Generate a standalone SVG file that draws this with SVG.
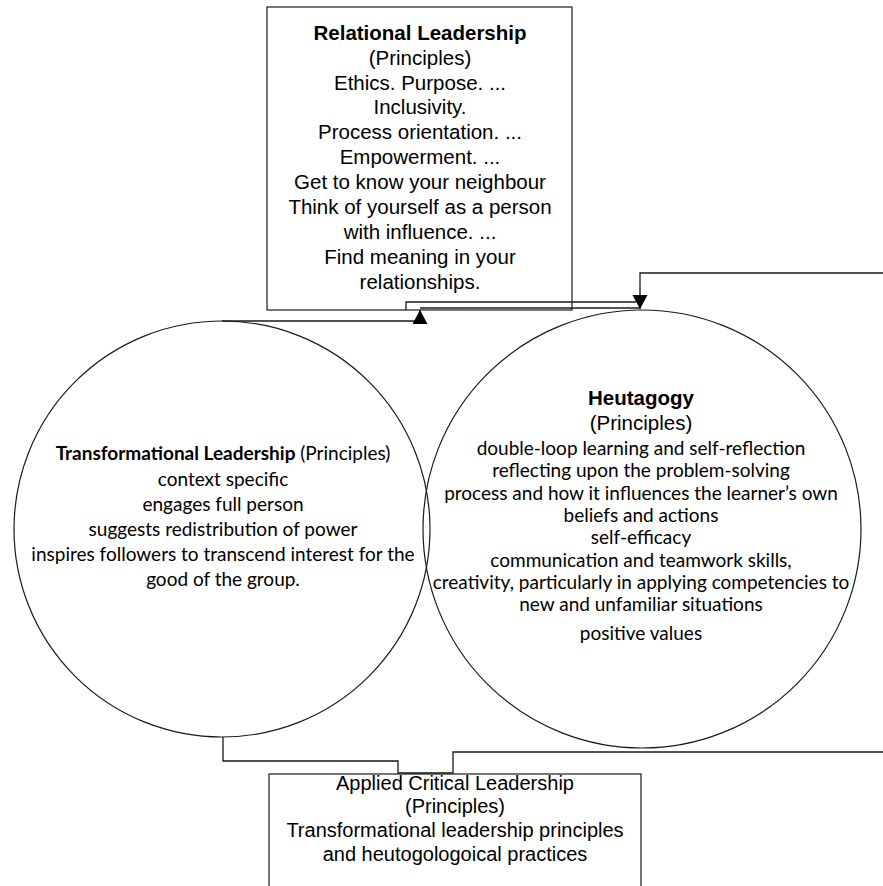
<svg xmlns="http://www.w3.org/2000/svg" width="883" height="886" viewBox="0 0 883 886">
  <style>
    .shape { fill: #ffffff; stroke: #1a1a1a; stroke-width: 1.2; }
    .wire { fill: none; stroke: #1a1a1a; stroke-width: 1.3; }
    .arial { font-family: "Liberation Sans", Arial, sans-serif; font-size: 20.5px; fill: #000; text-anchor: middle; }
    .arialsm { font-family: "Liberation Sans", Arial, sans-serif; font-size: 20px; fill: #000; text-anchor: middle; }
    .cal { font-family: Lato, "Open Sans", sans-serif; font-size: 19px; fill: #000; text-anchor: middle; }
    .b { font-weight: bold; }
  </style>
  <defs>
    <marker id="arrow" markerUnits="userSpaceOnUse" markerWidth="16" markerHeight="16" refX="14" refY="7.5" orient="auto">
      <path d="M0,0 L14,7.5 L0,15 Z" fill="#000"/>
    </marker>
  </defs>

  <rect width="883" height="886" fill="#ffffff"/>

  <!-- Transformational Leadership -->
  <g id="transformational">
    <circle class="shape" cx="222" cy="529" r="208"/>
    <text class="cal" x="223" y="460"><tspan class="b">Transformational Leadership</tspan> (Principles)</text>
    <text class="cal" x="223" y="486">context specific</text>
    <text class="cal" x="223" y="511">engages full person</text>
    <text class="cal" x="223" y="536">suggests redistribution of power</text>
    <text class="cal" x="223" y="561">inspires followers to transcend interest for the</text>
    <text class="cal" x="223" y="586">good of the group.</text>
  </g>

  <!-- Heutagogy -->
  <g id="heutagogy">
    <circle class="shape" cx="642" cy="529" r="219" fill-opacity="0"/>
    <text class="arial b" x="641" y="405">Heutagogy</text>
    <text class="arial" x="641" y="430">(Principles)</text>
    <text class="cal" x="641" y="455">double-loop learning and self-reflection</text>
    <text class="cal" x="641" y="477">reflecting upon the problem-solving</text>
    <text class="cal" x="641" y="500">process and how it influences the learner’s own</text>
    <text class="cal" x="641" y="522">beliefs and actions</text>
    <text class="cal" x="641" y="544">self-efficacy</text>
    <text class="cal" x="641" y="567">communication and teamwork skills,</text>
    <text class="cal" x="641" y="589">creativity, particularly in applying competencies to</text>
    <text class="cal" x="641" y="611">new and unfamiliar situations</text>
    <text class="cal" x="641" y="640">positive values</text>
  </g>

  <!-- Relational Leadership -->
  <g id="relational">
    <rect class="shape" x="267" y="7" width="305" height="303"/>
    <text class="arial b" x="420" y="40">Relational Leadership</text>
    <text class="arial" x="420" y="65">(Principles)</text>
    <text class="arial" x="420" y="90">Ethics. Purpose. ...</text>
    <text class="arial" x="420" y="114">Inclusivity.</text>
    <text class="arial" x="420" y="139">Process orientation. ...</text>
    <text class="arial" x="420" y="164">Empowerment. ...</text>
    <text class="arial" x="420" y="189">Get to know your neighbour</text>
    <text class="arial" x="420" y="214">Think of yourself as a person</text>
    <text class="arial" x="420" y="239">with influence. ...</text>
    <text class="arial" x="420" y="264">Find meaning in your</text>
    <text class="arial" x="420" y="289">relationships.</text>
  </g>

  <!-- Applied Critical Leadership -->
  <g id="applied">
    <rect class="shape" x="269" y="774" width="372" height="130"/>
    <text class="arialsm" x="455" y="790">Applied Critical Leadership</text>
    <text class="arialsm" x="455" y="813">(Principles)</text>
    <text class="arialsm" x="455" y="837">Transformational leadership principles</text>
    <text class="arialsm" x="455" y="861">and heutogologoical practices</text>
  </g>

  <!-- Connectors -->
  <g id="connectors">
    <path class="wire" d="M222,321 H420 V310" marker-end="url(#arrow)"/>
    <path class="wire" d="M406,310 V302 H636"/>
    <path class="wire" d="M420,308 H640"/>
    <path class="wire" d="M883,273 H640 V309" marker-end="url(#arrow)"/>
    <path class="wire" d="M223,737 V761 H398 V773 H453 V752 H883"/>
  </g>
</svg>
